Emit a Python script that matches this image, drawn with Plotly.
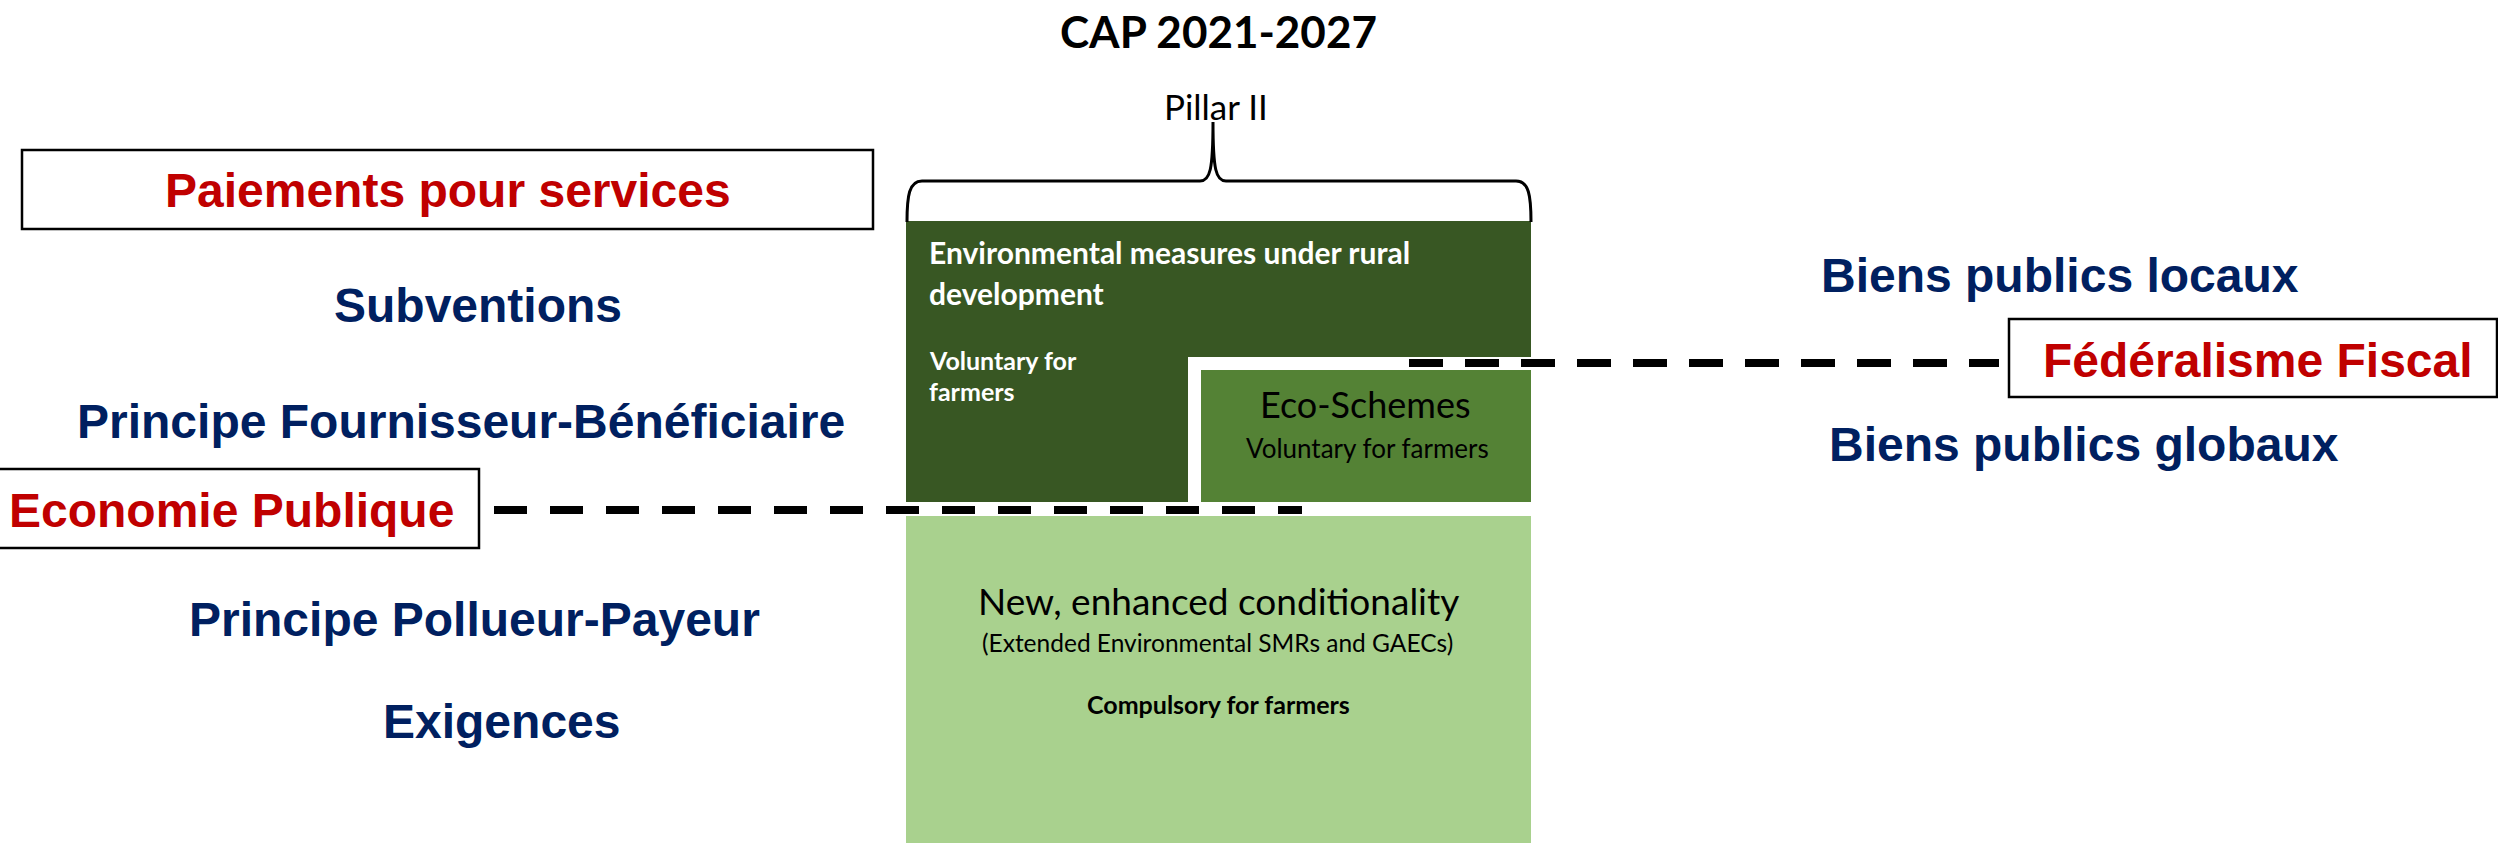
import plotly.graph_objects as go

# ---------------- data (text content) ----------------
title_text = "CAP 2021-2027"
pillar_text = "Pillar II"
left_boxed = ["Paiements pour services", "Economie Publique"]
left_labels = ["Subventions", "Principe Fournisseur-Bénéficiaire",
               "Principe Pollueur-Payeur", "Exigences"]
right_boxed = ["Fédéralisme Fiscal"]
right_labels = ["Biens publics locaux", "Biens publics globaux"]
rd_lines = ["Environmental measures under rural", "development"]
rd_sub = ["Voluntary for", "farmers"]
eco_lines = ["Eco-Schemes", "Voluntary for farmers"]
cond_lines = ["New, enhanced conditionality",
              "(Extended Environmental SMRs and GAECs)",
              "Compulsory for farmers"]

# ---------------- layout constants ----------------
W, H = 2498, 843
ARIAL = "Liberation Sans, Arial, sans-serif"
CAL = "Lato, Carlito, Calibri, sans-serif"
RED = "#C00000"
NAVY = "#002060"
DARK = "#385723"
MID = "#548235"
LIGHT = "#A9D18E"

left_boxed_pos = [(448, 190), (231, 510)]
left_boxed_rect = [(22, 150, 873, 229), (-4, 469, 479, 548)]
left_pos = [(478, 305), (461, 421), (474, 619), (501, 721)]
right_boxed_pos = [(2258, 360)]
right_boxed_rect = [(2009, 319, 2497, 397)]
right_pos = [(2060, 275), (2084, 444)]

fig = go.Figure()
fig.add_trace(go.Scatter(x=[0, W], y=[0, H], mode="markers",
                         marker=dict(opacity=0), hoverinfo="skip", showlegend=False))

shapes = []
# dark green L-shaped block
shapes.append(dict(type="path", xref="x", yref="y",
                   path="M 906,221 L 1531,221 L 1531,357 L 1188,357 L 1188,502 L 906,502 Z",
                   fillcolor=DARK, line=dict(width=0)))
# eco-schemes block
shapes.append(dict(type="rect", xref="x", yref="y", x0=1201, y0=370, x1=1531, y1=502,
                   fillcolor=MID, line=dict(width=0)))
# conditionality block
shapes.append(dict(type="rect", xref="x", yref="y", x0=906, y0=516, x1=1531, y1=860,
                   fillcolor=LIGHT, line=dict(width=0)))
# brace
shapes.append(dict(type="path", xref="x", yref="y",
                   path=("M 907,222 C 907,196 909,181 922,181 L 1200,181 "
                         "C 1210,181 1213,170 1213,122 C 1213,170 1216,181 1226,181 "
                         "L 1516,181 C 1529,181 1531,196 1531,222"),
                   line=dict(color="black", width=3)))
# boxes with border
for (x0, y0, x1, y1) in left_boxed_rect + right_boxed_rect:
    shapes.append(dict(type="rect", xref="x", yref="y", x0=x0, y0=y0, x1=x1, y1=y1,
                       fillcolor="white", line=dict(color="black", width=2.5)))
# dashed connectors
shapes.append(dict(type="line", xref="x", yref="y", x0=494, y0=510, x1=1302, y1=510,
                   line=dict(color="black", width=8, dash="33px,23px")))
shapes.append(dict(type="line", xref="x", yref="y", x0=1409, y0=363, x1=1999, y1=363,
                   line=dict(color="black", width=8, dash="34px,22px")))

ann = []


def txt(s, x, y, size, color, family, xanchor="center", bold=True):
    ann.append(dict(x=x, y=y, xref="x", yref="y", text=(f"<b>{s}</b>" if bold else s),
                    showarrow=False, xanchor=xanchor, yanchor="middle",
                    font=dict(size=size, color=color, family=family)))


txt(title_text, 1218, 31, 44, "black", CAL)
txt(pillar_text, 1216, 106, 35, "black", CAL, bold=False)

for s, (x, y) in zip(left_boxed, left_boxed_pos):
    txt(s, x, y, 48, RED, ARIAL)
for s, (x, y) in zip(left_labels, left_pos):
    txt(s, x, y, 48, NAVY, ARIAL)
for s, (x, y) in zip(right_boxed, right_boxed_pos):
    txt(s, x, y, 48, RED, ARIAL)
for s, (x, y) in zip(right_labels, right_pos):
    txt(s, x, y, 48, NAVY, ARIAL)

for s, y in zip(rd_lines, [252, 293]):
    txt(s, 927, y, 30, "white", CAL, xanchor="left")
for s, y in zip(rd_sub, [360, 391]):
    txt(s, 927, y, 25, "white", CAL, xanchor="left")

txt(eco_lines[0], 1365, 404, 36, "black", CAL, bold=False)
txt(eco_lines[1], 1367, 448, 26, "black", CAL, bold=False)

txt(cond_lines[0], 1218, 600, 37, "black", CAL, bold=False)
txt(cond_lines[1], 1217, 642, 24.5, "black", CAL, bold=False)
txt(cond_lines[2], 1218, 704, 25, "black", CAL)

fig.update_layout(
    width=W, height=H,
    margin=dict(l=0, r=0, t=0, b=0),
    paper_bgcolor="white", plot_bgcolor="white",
    xaxis=dict(range=[0, W], visible=False, fixedrange=True),
    yaxis=dict(range=[H, 0], visible=False, fixedrange=True),
    shapes=shapes, annotations=ann, showlegend=False,
)

fig.write_html("out.html",
               config={"displayModeBar": False, "staticPlot": True},
               post_script="document.body.style.margin='0px';document.body.style.overflow='hidden';")
